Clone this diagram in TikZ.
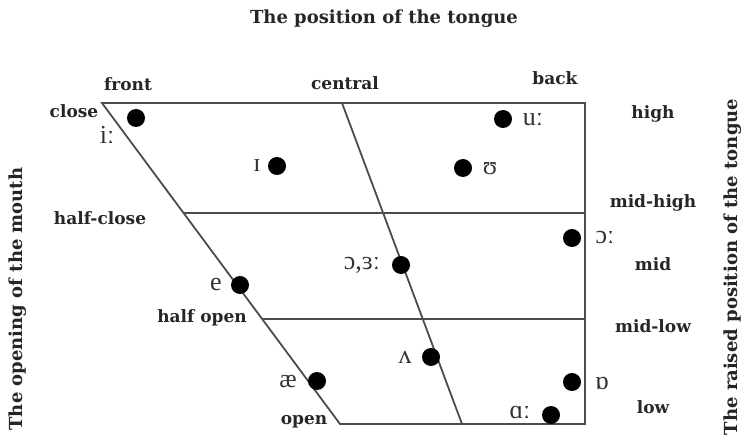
\documentclass[tikz,border=0pt]{standalone}
\usepackage{fontspec}
\setmainfont{DejaVu Serif}
\newfontfamily\ipafont{Liberation Serif}
\usetikzlibrary{calc,positioning}

\tikzset{
  chartline/.style={line width=1.8pt, black!70},
  vowel/.style={circle, fill=black, inner sep=0pt, minimum size=18pt},
  sym/.style={font=\ipafont\fontsize{26}{26}\selectfont, inner sep=0pt, text=black!80},
  lab/.style={font=\bfseries\fontsize{17}{17}\selectfont, inner sep=1pt, text=black!85},
  axis/.style={font=\bfseries\fontsize{18}{18}\selectfont, rotate=90, inner sep=1pt, text=black!85},
}

\begin{document}
\begin{tikzpicture}[x=1pt,y=-1pt]
    \useasboundingbox (0,0) rectangle (743,438);

    % Outline
    \coordinate (tl) at (102,103);
    \coordinate (tr) at (585,103);
    \coordinate (br) at (585,424);
    \coordinate (bl) at (340,424);
    \coordinate (ct) at (342,103);
    \coordinate (cb) at (462,424);
    \draw[chartline] (tl) -- (tr) -- (br) -- (bl) -- cycle;
    \draw[chartline] (ct) -- (cb);

    % Levels
    \coordinate (hc) at ($(tl)!0.3416!(bl)$);
    \coordinate (ho) at ($(tl)!0.674!(bl)$);
    \draw[chartline] (hc) -- (hc -| br);
    \draw[chartline] (ho) -- (ho -| br);

    % Vowels
    \foreach \n/\x/\y/\lx/\ly/\txt in {
        ii/136/118/107/135/iː,
        ih/277/166/257/166/ɪ,
        uu/503/119/533/120/uː,
        uh/463/168/490/169/ʊ,
        oo/572/238/605/238/ɔː,
        er/401/265/362/265/{ɔ,ɜː},
        ee/240/285/216/285/e,
        ae/317/381/288/381/æ,
        vv/431/357/405/357/ʌ,
        ob/572/382/602/383/ɒ,
        aa/551/415/520/412/ɑː} {
        \node[vowel] (\n) at (\x,\y) {};
        \node[sym] (\n-t) at (\lx,\ly) {\txt};
    }

    % Labels
    \node[lab, font=\bfseries\fontsize{18}{18}\selectfont] (title) at (384,19) {The position of the tongue};
    \node[lab] (front) at (128,84) {front};
    \node[lab] (central) at (345,83) {central};
    \node[lab] (back) at (555,78) {back};
    \node[lab] (close) at (74,111) {close};
    \node[lab] (halfclose) at (100,218) {half-close};
    \node[lab] (halfopen) at (202,318) {half open};
    \node[lab] (open) at (304,422) {open};

    \foreach \n/\y/\txt in {high/114/high, midhigh/203/mid-high, mid/264/mid,
        midlow/326/mid-low, low/407/low} {
        \node[lab] (\n) at (653,\y) {\txt};
    }

    \node[axis] (mouth) at (18,299) {The opening of the mouth};
    \node[axis] (raised) at (733,267) {The raised position of the tongue};
\end{tikzpicture}
\end{document}
